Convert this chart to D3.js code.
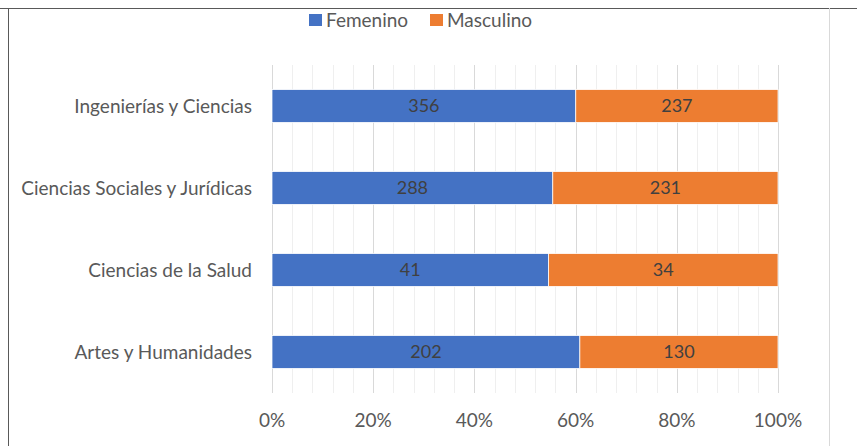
<!DOCTYPE html>
<html>
<head>
<meta charset="utf-8">
<script src="https://cdn.jsdelivr.net/npm/d3@7"></script>
<style>
  body { margin: 0; background: #fff; }
  text { font-family: Lato, "Open Sans", sans-serif; }
</style>
</head>
<body>
<div id="chart"></div>
<script>
const categories = ['Ingenierías y Ciencias', 'Ciencias Sociales y Jurídicas', 'Ciencias de la Salud', 'Artes y Humanidades']
const femenino = [356, 288, 41, 202]
const masculino = [237, 231, 34, 130]
const seriesNames = ['Femenino', 'Masculino']
const seriesColors = ['#4472C4', '#ED7D31']
const tickValues = [0, 0.2, 0.4, 0.6, 0.8, 1]

const width = 857
const height = 446
const margin = { top: 65, right: 79, bottom: 53, left: 272 }

const svg = d3.select('#chart')
  .append('svg')
  .attr('width', width)
  .attr('height', height)

// chart frame
svg.append('line').attr('x1', 0).attr('x2', width).attr('y1', 8.5).attr('y2', 8.5).attr('stroke', '#595959')
svg.append('line').attr('x1', 8.5).attr('x2', 8.5).attr('y1', 8).attr('y2', height).attr('stroke', '#595959')
svg.append('line').attr('x1', 829.5).attr('x2', 829.5).attr('y1', 8).attr('y2', height).attr('stroke', '#d9d9d9')

const x = d3.scaleLinear().domain([0, 1]).range([margin.left, width - margin.right])
const y = d3.scaleBand().domain(categories).range([margin.top, height - margin.bottom]).paddingInner(0.6).paddingOuter(0.3)

const g = svg.append('g')

// minor gridlines every 4%
g.selectAll('.minor')
  .data(d3.range(0, 1.0001, 0.04))
  .enter()
  .append('line')
  .attr('x1', d => Math.round(x(d)) + 0.5)
  .attr('x2', d => Math.round(x(d)) + 0.5)
  .attr('y1', margin.top)
  .attr('y2', height - margin.bottom)
  .attr('stroke', '#efefef')

g.selectAll('.major')
  .data(tickValues)
  .enter()
  .append('line')
  .attr('x1', d => Math.round(x(d)) + 0.5)
  .attr('x2', d => Math.round(x(d)) + 0.5)
  .attr('y1', margin.top)
  .attr('y2', height - margin.bottom)
  .attr('stroke', '#d9d9d9')

const rows = categories.map((c, i) => {
  const total = femenino[i] + masculino[i]
  return { cat: c, vals: [femenino[i], masculino[i]], shares: [femenino[i] / total, masculino[i] / total] }
})

rows.forEach(r => {
  let start = 0
  r.shares.forEach((s, j) => {
    const x0 = x(start)
    const x1 = x(start + s)
    g.append('rect')
      .attr('x', x0)
      .attr('y', y(r.cat))
      .attr('width', x1 - x0)
      .attr('height', y.bandwidth())
      .attr('fill', seriesColors[j])
      .attr('stroke', '#fff')
      .attr('stroke-width', 0.75)
    g.append('text')
      .attr('x', (x0 + x1) / 2)
      .attr('y', y(r.cat) + y.bandwidth() / 2)
      .attr('dy', '0.35em')
      .attr('text-anchor', 'middle')
      .attr('font-size', 18)
      .attr('fill', '#404040')
      .text(r.vals[j])
    start += s
  })
})

// category labels
g.selectAll('.cat')
  .data(categories)
  .enter()
  .append('text')
  .attr('x', margin.left - 20)
  .attr('y', d => y(d) + y.bandwidth() / 2)
  .attr('dy', '0.35em')
  .attr('text-anchor', 'end')
  .attr('font-size', 19)
  .attr('fill', '#595959')
  .text(d => d)

// x axis labels
g.selectAll('.tick')
  .data(tickValues)
  .enter()
  .append('text')
  .attr('x', d => x(d))
  .attr('y', 420)
  .attr('dy', '0.35em')
  .attr('text-anchor', 'middle')
  .attr('font-size', 19)
  .attr('fill', '#595959')
  .text(d3.format('.0%'))

// legend
const legendX = [309, 430]
seriesNames.forEach((n, i) => {
  svg.append('rect')
    .attr('x', legendX[i])
    .attr('y', 14)
    .attr('width', 13)
    .attr('height', 12)
    .attr('fill', seriesColors[i])
  svg.append('text')
    .attr('x', legendX[i] + 17)
    .attr('y', 20)
    .attr('dy', '0.35em')
    .attr('font-size', 19)
    .attr('fill', '#595959')
    .text(n)
})
</script>
</body>
</html>
